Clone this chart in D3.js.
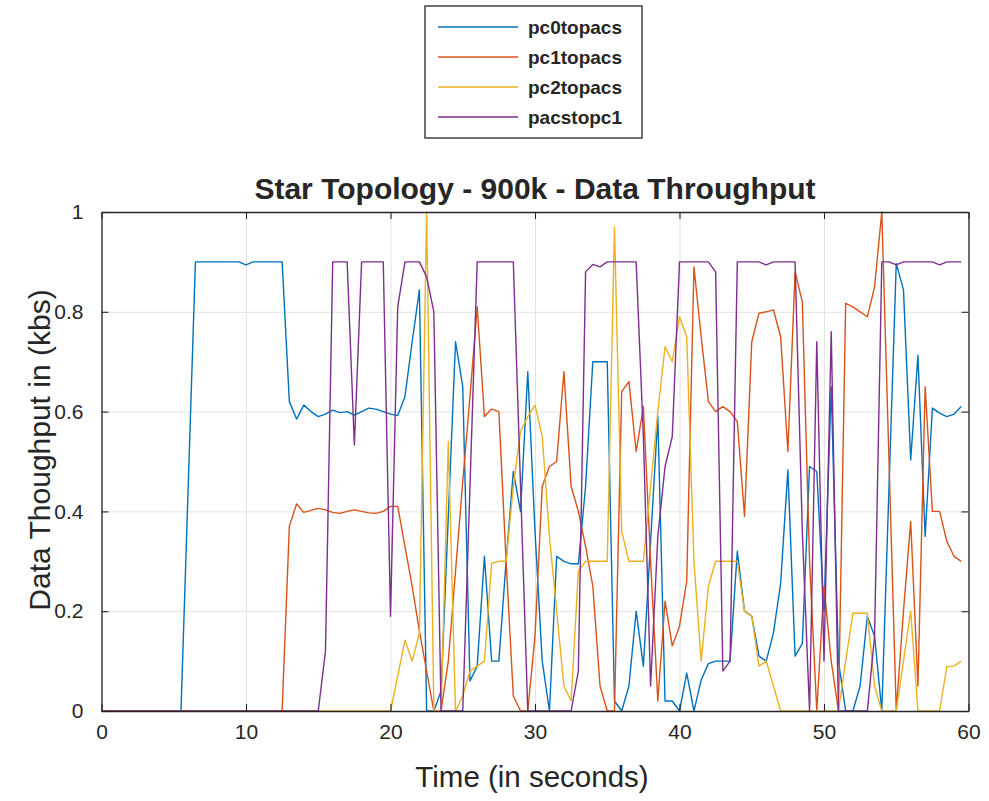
<!DOCTYPE html>
<html>
<head>
<meta charset="utf-8">
<script src="https://cdn.jsdelivr.net/npm/d3@7"></script>
<style>
  body { margin: 0; background: #fff; }
  svg { display: block; }
  text { font-family: "Liberation Sans", Arial, Helvetica, sans-serif; fill: #262626; }
</style>
</head>
<body>
<svg id="chart" width="989" height="801"></svg>
<script>
// ---------------- data ----------------
const time = [
  0,0.5,1,1.5,2,2.5,3,3.5,4,4.5,5,5.5,6,6.5,7,7.5,8,8.5,9,9.5,
  10,10.5,11,11.5,12,12.5,13,13.5,14,14.5,15,15.5,16,16.5,17,17.5,18,18.5,19,19.5,
  20,20.5,21,21.5,22,22.5,23,23.5,24,24.5,25,25.5,26,26.5,27,27.5,28,28.5,29,29.5,
  30,30.5,31,31.5,32,32.5,33,33.5,34,34.5,35,35.5,36,36.5,37,37.5,38,38.5,39,39.5,
  40,40.5,41,41.5,42,42.5,43,43.5,44,44.5,45,45.5,46,46.5,47,47.5,48,48.5,49,49.5,
  50,50.5,51,51.5,52,52.5,53,53.5,54,54.5,55,55.5,56,56.5,57,57.5,58,58.5,59,59.5
];

const pc0topacs = [
  0,0,0,0,0,0,0,0,0,0,0,0,
  0.45,
  0.9,0.9,0.9,0.9,0.9,0.9,0.9,
  0.894,
  0.9,0.9,0.9,0.9,0.9,
  0.62,0.585,0.613,0.60,0.59,0.595,0.603,0.598,0.60,0.593,0.60,0.607,0.605,0.60,0.595,0.592,
  0.63,0.74,0.844,0,0,0.04,0.39,0.74,0.65,0.06,0.09,0.31,0.10,0.10,0.30,0.48,0.40,0.68,0.36,0.10,
  0,0.31,0.30,0.295,0.295,0.45,0.70,0.70,0.70,0.02,
  0,0.05,0.2,0.09,0.34,0.59,0.02,0.02,0,0.076,
  0,0.062,0.095,0.10,0.10,0.10,0.32,0.20,0.19,0.11,
  0.10,0.156,0.256,0.483,0.11,0.135,0.49,0.48,0.2,0.65,
  0.1,0,0,0.05,0.19,0.15,0,0.45,0.897,0.844,
  0.503,0.713,0.35,0.607,0.597,0.59,0.595,0.61
];

const pc1topacs = [
  0,0,0,0,0,0,0,0,0,0,0,0,0,0,0,0,0,0,0,0,0,0,0,0,0,0,
  0.37,0.415,0.398,0.402,0.406,0.403,0.398,0.396,0.40,0.403,0.40,0.397,0.396,0.40,0.41,0.41,
  0.33,0.25,0.16,0.08,0,0,0.1,0.28,0.46,0.63,0.81,0.59,0.605,0.60,0.3,0.03,0,0,0.15,0.45,
  0.49,0.50,0.68,0.45,0.40,0.33,0.25,0.05,0,0,
  0.64,0.66,0.52,0.61,0.30,0.02,0.22,0.13,0.17,0.26,
  0.89,0.75,0.62,0.60,0.61,0.60,0.58,0.39,0.74,0.797,
  0.80,0.804,0.75,0.52,0.88,0.82,0.3,0,0.25,0.1,
  0,0.817,0.81,0.80,0.79,0.85,1.0,0.5,0,0.2,
  0.38,0.05,0.65,0.40,0.40,0.34,0.31,0.30
];

const pc2topacs = [
  0,0,0,0,0,0,0,0,0,0,0,0,0,0,0,0,0,0,0,0,0,0,0,0,0,0,0,0,0,0,0,0,0,0,0,0,0,0,0,0,0,
  0.07,
  0.142,0.10,0.156,1.0,0,0,0.54,0,0.03,0.08,0.09,0.10,0.296,0.30,0.30,0.45,0.56,0.59,0.613,0.55,
  0.35,0.2,0.05,0.02,0.28,0.30,0.30,0.30,0.30,0.97,
  0.36,0.30,0.30,0.30,0.45,0.6,0.73,0.70,0.79,0.75,
  0.30,0.10,0.25,0.30,0.30,0.30,0.30,0.20,0.19,0.09,
  0.10,0.05,0,0,0,0,0,0,0,0,
  0,0.1,0.196,0.196,0.196,0.05,0,0,0,0.1,
  0.2,0,0,0,0,0.089,0.09,0.1
];

const pacstopc1 = [
  0,0,0,0,0,0,0,0,0,0,0,0,0,0,0,0,0,0,0,0,0,0,0,0,0,0,0,0,0,0,0,
  0.12,0.9,0.9,0.9,0.533,0.9,0.9,0.9,0.9,0.19,0.81,
  0.9,0.9,0.9,0.87,0.8,0,0,0,0,0.45,0.9,0.9,0.9,0.9,0.9,0.9,0.45,0,0,0,
  0,0,0,0,0.08,0.88,0.895,0.89,0.9,0.9,
  0.9,0.9,0.9,0.55,0.05,0.35,0.49,0.55,0.9,0.9,
  0.9,0.9,0.9,0.88,0.08,0.10,0.9,0.9,0.9,0.9,
  0.894,0.9,0.9,0.9,0.9,0.36,0,0.74,0.1,0.76,
  0,0,0,0,0,0.15,0.9,0.9,0.894,0.9,
  0.9,0.9,0.9,0.9,0.894,0.9,0.9,0.9
];

const seriesNames  = ["pc0topacs", "pc1topacs", "pc2topacs", "pacstopc1"];
const seriesValues = [pc0topacs, pc1topacs, pc2topacs, pacstopc1];
const seriesColors = ["#0072BD", "#D95319", "#EDB120", "#7E2F8E"];

const xTicks = [0, 10, 20, 30, 40, 50, 60];
const yTicks = [0, 0.2, 0.4, 0.6, 0.8, 1];
const yTickLabels = ["0", "0.2", "0.4", "0.6", "0.8", "1"];

const titleText = "Star Topology - 900k - Data Throughput";
const xLabelText = "Time (in seconds)";
const yLabelText = "Data Thoughput in (kbs)";

// ---------------- layout ----------------
const plot = { left: 101.5, right: 968.5, top: 212, bottom: 711 };
const svg = d3.select("#chart");

const x = d3.scaleLinear().domain([0, 60]).range([plot.left, plot.right]);
const y = d3.scaleLinear().domain([0, 1]).range([plot.bottom, plot.top]);
const axisColor = "#262626";

svg.append("rect").attr("x", 0).attr("y", 0).attr("width", 989).attr("height", 801).attr("fill", "#fff");
svg.append("rect").attr("x", plot.left).attr("y", plot.top)
   .attr("width", plot.right - plot.left).attr("height", plot.bottom - plot.top).attr("fill", "#fff");

// grid
svg.append("g").attr("transform", `translate(0,${plot.bottom})`)
  .call(d3.axisBottom(x).tickValues(xTicks).tickSize(-(plot.bottom - plot.top)).tickFormat(""))
  .call(g => g.select(".domain").remove())
  .selectAll("line").attr("stroke", "#e3e3e3").attr("stroke-width", 1);
svg.append("g").attr("transform", `translate(${plot.left},0)`)
  .call(d3.axisLeft(y).tickValues(yTicks).tickSize(-(plot.right - plot.left)).tickFormat(""))
  .call(g => g.select(".domain").remove())
  .selectAll("line").attr("stroke", "#e3e3e3").attr("stroke-width", 1);

// lines
const line = d3.line().x((d, i) => x(time[i])).y(d => y(d));
seriesValues.forEach((vals, s) => {
  svg.append("path").datum(vals)
    .attr("fill", "none")
    .attr("stroke", seriesColors[s])
    .attr("stroke-width", 1.4)
    .attr("stroke-linejoin", "round")
    .attr("d", line);
});

// axes
const tickLen = 7;
function styleAxis(g) {
  g.select(".domain").attr("stroke", axisColor).attr("stroke-width", 1.3);
  g.selectAll(".tick line").attr("stroke", axisColor).attr("stroke-width", 1.1);
  g.selectAll(".tick text").attr("fill", axisColor)
    .style("font-family", '"Liberation Sans", Arial, sans-serif').style("font-size", "21px");
}
svg.append("g").attr("transform", `translate(0,${plot.bottom})`)
  .call(d3.axisBottom(x).tickValues(xTicks).tickSizeInner(-tickLen).tickSizeOuter(0).tickPadding(13).tickFormat(d3.format("d")))
  .call(styleAxis);
svg.append("g").attr("transform", `translate(0,${plot.top})`)
  .call(d3.axisTop(x).tickValues(xTicks).tickSizeInner(-tickLen).tickSizeOuter(0).tickFormat(""))
  .call(styleAxis);
svg.append("g").attr("transform", `translate(${plot.left},0)`)
  .call(d3.axisLeft(y).tickValues(yTicks).tickSizeInner(-tickLen).tickSizeOuter(0).tickPadding(18)
        .tickFormat((d, i) => yTickLabels[i]))
  .call(styleAxis);
svg.append("g").attr("transform", `translate(${plot.right},0)`)
  .call(d3.axisRight(y).tickValues(yTicks).tickSizeInner(-tickLen).tickSizeOuter(0).tickFormat(""))
  .call(styleAxis);

// title and labels
svg.append("text").attr("x", (plot.left + plot.right) / 2).attr("y", 199)
  .attr("text-anchor", "middle").style("font-size", "30px").style("font-weight", "bold")
  .attr("fill", "#000").text(titleText);
svg.append("text").attr("x", 532).attr("y", 787)
  .attr("text-anchor", "middle").style("font-size", "29.5px").text(xLabelText);
svg.append("text").attr("transform", "translate(50,450) rotate(-90)")
  .attr("text-anchor", "middle").style("font-size", "30px").text(yLabelText);

// legend
const leg = { left: 425, top: 6, right: 642, bottom: 138 };
svg.append("rect").attr("x", leg.left).attr("y", leg.top)
  .attr("width", leg.right - leg.left).attr("height", leg.bottom - leg.top)
  .attr("fill", "#fff").attr("stroke", axisColor).attr("stroke-width", 1.3);
const legRowY = d3.scalePoint().domain(seriesNames).range([27, 117]);
seriesNames.forEach((name, s) => {
  const yy = legRowY(name);
  svg.append("line").attr("x1", 438).attr("x2", 518).attr("y1", yy).attr("y2", yy)
    .attr("stroke", seriesColors[s]).attr("stroke-width", 1.4);
  svg.append("text").attr("x", 528).attr("y", yy + 6.5)
    .style("font-size", "19px").style("font-weight", "bold").attr("fill", "#000").text(name);
});
</script>
</body>
</html>
